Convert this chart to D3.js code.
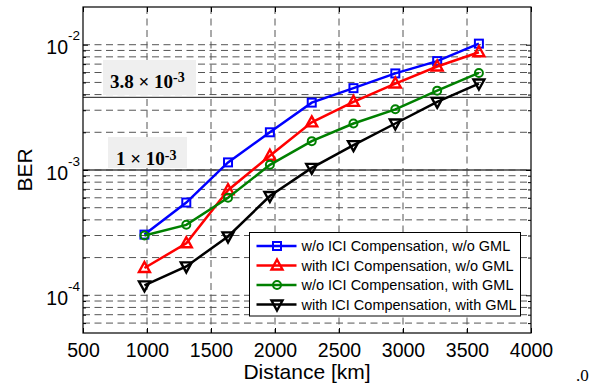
<!DOCTYPE html>
<html>
<head>
<meta charset="utf-8">
<script src="https://cdn.jsdelivr.net/npm/d3@7"></script>
<style>
  body { margin: 0; background: #fff; }
  svg { display: block; }
  .tick text { font-family: "Liberation Sans", Arial, sans-serif; }
</style>
</head>
<body>
<svg id="chart"></svg>
<script>
// data
const distances = [980, 1307, 1633, 1960, 2287, 2613, 2940, 3267, 3593];
const berNoIciNoGml = [3.05e-4, 5.5e-4, 1.15e-3, 2.0e-3, 3.45e-3, 4.5e-3, 5.9e-3, 7.4e-3, 1.02e-2];
const berIciNoGml = [1.65e-4, 2.6e-4, 6.9e-4, 1.3e-3, 2.4e-3, 3.5e-3, 4.9e-3, 6.7e-3, 8.7e-3];
const berNoIciGml = [3.0e-4, 3.65e-4, 6.0e-4, 1.1e-3, 1.7e-3, 2.35e-3, 3.05e-3, 4.3e-3, 5.95e-3];
const berIciGml = [1.2e-4, 1.7e-4, 2.95e-4, 6.2e-4, 1.04e-3, 1.58e-3, 2.35e-3, 3.5e-3, 4.9e-3];
const seriesNames = [
  "w/o ICI Compensation, w/o GML",
  "with ICI Compensation, w/o GML",
  "w/o ICI Compensation, with GML",
  "with ICI Compensation, with GML"
];
const xTicks = [500, 1000, 1500, 2000, 2500, 3000, 3500, 4000];
const yMajor = [1e-4, 1e-3, 1e-2];
const thresholds = [3.8e-3, 1e-3];
const thresholdLabels = [["3.8 \u00d7 10", "-3"], ["1 \u00d7 10", "-3"]];

const W = 604, H = 389;
const margin = { top: 7, right: 73, bottom: 56, left: 83 };
const width = W - margin.left - margin.right;
const height = H - margin.top - margin.bottom;

const svg = d3.select("#chart").attr("width", W).attr("height", H);
const g = svg.append("g").attr("transform", `translate(${margin.left},${margin.top})`);

const x = d3.scaleLinear().domain([500, 4000]).range([0, width]);
const y = d3.scaleLog().domain([5e-5, 2e-2]).range([height, 0]);

// minor values 2..9 x 10^k inside domain
let yMinor = [];
for (let k = -5; k <= -2; k++) {
  for (let m = 2; m <= 9; m++) {
    const v = m * Math.pow(10, k);
    if (v > 5e-5 && v < 2e-2) yMinor.push(v);
  }
}
const yGrid = yMinor.concat(yMajor);

const gridColor = "#555";
const dash = "7,4.5";

// grid
g.append("g").selectAll("line.hgrid")
  .data(yGrid).join("line")
  .attr("x1", 0).attr("x2", width)
  .attr("y1", d => y(d)).attr("y2", d => y(d))
  .attr("stroke", gridColor).attr("stroke-width", 1)
  .attr("stroke-dasharray", dash);

g.append("g").selectAll("line.vgrid")
  .data(xTicks.slice(1, -1)).join("line")
  .attr("x1", d => x(d)).attr("x2", d => x(d))
  .attr("y1", 0).attr("y2", height)
  .attr("stroke", gridColor).attr("stroke-width", 1)
  .attr("stroke-dasharray", dash);

// threshold annotation boxes
const boxes = [
  { x: 20, y: 53, w: 93, h: 35, tx: 27, ty: 80.5 },
  { x: 25, y: 130, w: 79, h: 31, tx: 33, ty: 158 }
];
boxes.forEach((b, i) => {
  g.append("rect").attr("x", b.x).attr("y", b.y).attr("width", b.w).attr("height", b.h)
    .attr("fill", "#efefef");
  const t = g.append("text").attr("x", b.tx).attr("y", b.ty)
    .attr("font-family", "'Liberation Serif', 'Times New Roman', serif")
    .attr("font-weight", "bold").attr("font-size", 19).attr("fill", "#000");
  t.append("tspan").text(thresholdLabels[i][0]);
  t.append("tspan").attr("dy", -5.5).attr("font-size", 14).text(thresholdLabels[i][1]);
});

// threshold lines
g.append("g").selectAll("line")
  .data(thresholds).join("line")
  .attr("x1", 0).attr("x2", width)
  .attr("y1", d => y(d)).attr("y2", d => y(d))
  .attr("stroke", "#444").attr("stroke-width", 1.3);

// axes
const xAxis = g.append("g").attr("transform", `translate(0,${height})`)
  .call(d3.axisBottom(x).tickValues(xTicks).tickSize(-5).tickPadding(10).tickFormat(d3.format("d")));
xAxis.selectAll("text").attr("font-size", 19.5).attr("fill", "#000");

g.append("g")
  .call(d3.axisTop(x).tickValues(xTicks).tickSize(-5).tickFormat(""));

const yAxis = g.append("g")
  .call(d3.axisLeft(y).tickValues(yMajor).tickSize(-5).tickFormat(""));
yAxis.selectAll(".tick").append("text")
  .attr("x", -3).attr("y", 9).attr("text-anchor", "end")
  .attr("font-size", 19.5).attr("fill", "#000")
  .each(function (d) {
    const t = d3.select(this);
    t.append("tspan").text("10");
    t.append("tspan").attr("dy", -14).attr("font-size", 13.5).text(String(Math.round(Math.log10(d))));
  });
g.append("g").call(d3.axisLeft(y).tickValues(yMinor).tickSize(-3).tickFormat(""));
g.append("g").attr("transform", `translate(${width},0)`)
  .call(d3.axisRight(y).tickValues(yMajor).tickSize(-5).tickFormat(""));
g.append("g").attr("transform", `translate(${width},0)`)
  .call(d3.axisRight(y).tickValues(yMinor).tickSize(-3).tickFormat(""));

g.selectAll(".domain").remove();
g.selectAll(".tick line").attr("stroke", "#000");

// frame
g.append("rect").attr("width", width).attr("height", height)
  .attr("fill", "none").attr("stroke", "#000").attr("stroke-width", 1.2);

// axis labels
svg.append("text")
  .attr("x", margin.left + width / 2).attr("y", 379)
  .attr("text-anchor", "middle")
  .attr("font-family", "'Liberation Sans', Arial, sans-serif")
  .attr("font-size", 21).text("Distance [km]");

svg.append("text")
  .attr("transform", `translate(32,${margin.top + height / 2}) rotate(-90)`)
  .attr("text-anchor", "middle")
  .attr("font-family", "'Liberation Sans', Arial, sans-serif")
  .attr("font-size", 21).text("BER");

// stray label at bottom right
svg.append("text").attr("x", 576).attr("y", 381)
  .attr("font-family", "'Liberation Serif', 'Times New Roman', serif")
  .attr("font-size", 17).text(".0");

// series
const colors = ["#0000ff", "#ff0000", "#008000", "#000000"];
const markers = ["square", "up", "circle", "down"];
const allSeries = [berNoIciNoGml, berIciNoGml, berNoIciGml, berIciGml];

function drawMarker(sel, type, color) {
  if (type === "square") {
    sel.append("rect").attr("x", -4).attr("y", -4).attr("width", 8).attr("height", 8)
      .attr("fill", "none").attr("stroke", color).attr("stroke-width", 2);
  } else if (type === "circle") {
    sel.append("circle").attr("r", 4).attr("fill", "none").attr("stroke", color).attr("stroke-width", 2);
  } else if (type === "up") {
    sel.append("path").attr("d", "M0,-6L5.5,4L-5.5,4Z")
      .attr("fill", "none").attr("stroke", color).attr("stroke-width", 2.4).attr("stroke-linejoin", "miter");
  } else {
    sel.append("path").attr("d", "M0,6L5.5,-4L-5.5,-4Z")
      .attr("fill", "none").attr("stroke", color).attr("stroke-width", 2.4).attr("stroke-linejoin", "miter");
  }
}

const line = d3.line().x(d => x(d[0])).y(d => y(d[1]));

allSeries.forEach((vals, i) => {
  const pts = distances.map((dd, j) => [dd, vals[j]]);
  g.append("path").datum(pts)
    .attr("d", line).attr("fill", "none")
    .attr("stroke", colors[i]).attr("stroke-width", 2.5);
  g.append("g").selectAll("g")
    .data(pts).join("g")
    .attr("transform", d => `translate(${x(d[0])},${y(d[1])})`)
    .each(function () { drawMarker(d3.select(this), markers[i], colors[i]); });
});

// legend
const lg = svg.append("g").attr("transform", "translate(249.5,232.5)");
lg.append("rect").attr("width", 271).attr("height", 83.5)
  .attr("fill", "#fff").attr("stroke", "#000").attr("stroke-width", 1);
seriesNames.forEach((name, i) => {
  const ry = 13.5 + i * 19.5;
  const row = lg.append("g").attr("transform", `translate(0,${ry})`);
  row.append("line").attr("x1", 7).attr("x2", 47).attr("y1", 0).attr("y2", 0)
    .attr("stroke", colors[i]).attr("stroke-width", 2.5);
  drawMarker(row.append("g").attr("transform", "translate(27.5,0)"), markers[i], colors[i]);
  row.append("text").attr("x", 52).attr("y", 5)
    .attr("font-family", "'Liberation Sans', Arial, sans-serif")
    .attr("font-size", 14.5).text(name);
});
</script>
</body>
</html>
